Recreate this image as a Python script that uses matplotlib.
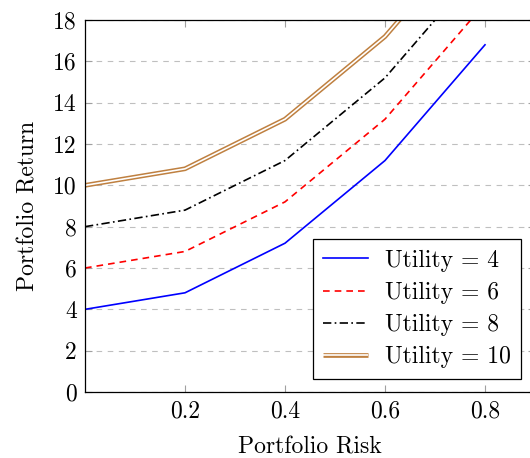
import matplotlib
matplotlib.use("Agg")
import matplotlib.pyplot as plt

# ==========================================
# DATA
# ==========================================
risk = [0.0, 0.2, 0.4, 0.6, 0.8]
ret_u4 = [4.0, 4.8, 7.2, 11.2, 16.8]
ret_u6 = [6.0, 6.8, 9.2, 13.2, 18.8]
ret_u8 = [8.0, 8.8, 11.2, 15.2, 20.8]
ret_u10 = [10.0, 10.8, 13.2, 17.2, 22.8]
labels = ["Utility = 4", "Utility = 6", "Utility = 8", "Utility = 10"]
x_ticks = [0.2, 0.4, 0.6, 0.8]
y_ticks = [0, 2, 4, 6, 8, 10, 12, 14, 16, 18]
# ==========================================

plt.rcParams["font.family"] = ["cmr10", "DejaVu Serif"]
plt.rcParams["axes.formatter.use_mathtext"] = True
plt.rcParams["font.size"] = 17

W, H, DPI = 530, 458, 100
fig = plt.figure(figsize=(W / DPI, H / DPI), dpi=DPI)
# right edge of the axes sits a bit past the image border, like the original
ax = fig.add_axes([85 / W, (H - 392) / H, 450 / W, 372 / H])

ax.plot(risk, ret_u4, color="#0000ff", lw=1.2, label=labels[0])
ax.plot(risk, ret_u6, color="#ff0000", lw=1.2, ls=(0, (4, 3)), label=labels[1])
ax.plot(risk, ret_u8, color="black", lw=1.2, ls=(0, (5, 2, 1, 2)), label=labels[2])
outer, = ax.plot(risk, ret_u10, color="#bf8040", lw=3.4, solid_capstyle="butt")
inner, = ax.plot(risk, ret_u10, color="white", lw=1.2, solid_capstyle="butt")

ax.set_xlim(0, 0.9)
ax.set_ylim(0, 18)
ax.set_xticks(x_ticks)
ax.set_xticklabels([f"{t:.1f}" for t in x_ticks])
ax.set_yticks(y_ticks)
ax.set_yticklabels([str(t) for t in y_ticks])

ax.yaxis.grid(True, ls=(0, (5, 5)), color="#bfbfbf", lw=0.8)
ax.set_axisbelow(True)
ax.tick_params(direction="in", length=5, color="#a0a0a0", top=True, right=True, pad=6)
for side in ["left", "bottom", "top"]:
    ax.spines[side].set_linewidth(0.9)
ax.spines["right"].set_visible(False)

ax.set_xlabel("Portfolio Risk", labelpad=10)
ax.set_ylabel("Portfolio Return", labelpad=10)

handles, _ = ax.get_legend_handles_labels()
handles.append((outer, inner))
leg = ax.legend(handles, labels, loc="lower right", bbox_to_anchor=(0.969, 0.035),
                borderaxespad=0, frameon=True, fancybox=False, edgecolor="black",
                framealpha=1, handlelength=1.9, handletextpad=0.7, borderpad=0.45,
                labelspacing=0.43)
leg.get_frame().set_linewidth(0.9)

fig.savefig("out.png", dpi=DPI)
